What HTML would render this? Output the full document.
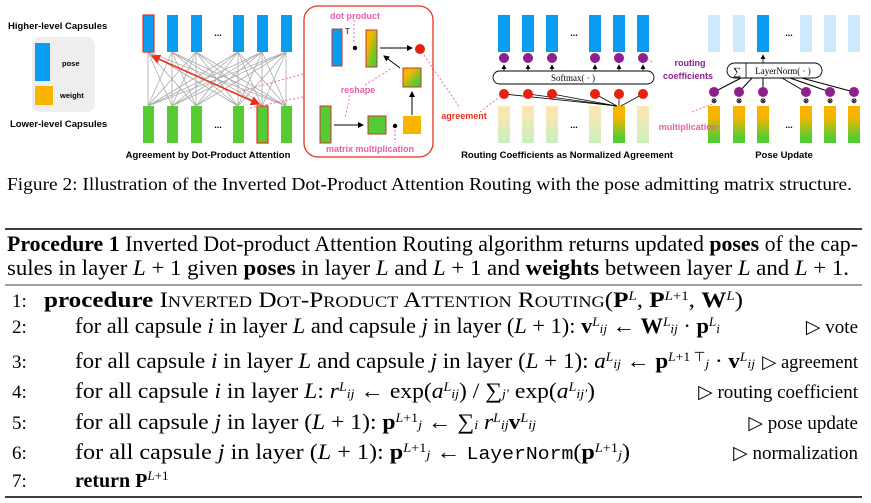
<!DOCTYPE html>
<html><head><meta charset="utf-8"><style>
html,body{margin:0;padding:0;background:#fff;}
svg{display:block;}
.sb{font-family:"Liberation Sans",sans-serif;font-weight:bold;}
.sr{font-family:"Liberation Serif",serif;}
</style></head><body>
<svg width="871" height="503" viewBox="0 0 871 503" xmlns="http://www.w3.org/2000/svg">
<defs>
<linearGradient id="diag" x1="0" y1="0" x2="1" y2="1"><stop offset="0.3" stop-color="#f7b500"/><stop offset="0.75" stop-color="#55cc33"/></linearGradient>
<linearGradient id="vert" x1="0" y1="0" x2="0" y2="1"><stop offset="0.3" stop-color="#f7b500"/><stop offset="0.85" stop-color="#55cc33"/></linearGradient>
<linearGradient id="fade" x1="0" y1="0" x2="0" y2="1"><stop offset="0.2" stop-color="#fbe7b3"/><stop offset="0.9" stop-color="#cdefbf"/></linearGradient>
<marker id="ah" markerWidth="6" markerHeight="6" refX="5" refY="3" orient="auto"><path d="M0,0 L6,3 L0,6 z" fill="#000"/></marker>
<marker id="ar" markerWidth="6" markerHeight="6" refX="5" refY="3" orient="auto-start-reverse"><path d="M0,0 L6,3 L0,6 z" fill="#e8321e"/></marker>
</defs>

<text class="sb" x="8" y="29" font-size="9.5">Higher-level Capsules</text>
<rect x="32" y="37" width="63" height="75" rx="8" fill="#eeeeee"/>
<rect x="35" y="43" width="15" height="38" fill="#0a9cf0"/>
<rect x="35" y="86" width="18" height="19" fill="#f7b500"/>
<text class="sb" x="62" y="66" font-size="7.5">pose</text>
<text class="sb" x="60" y="98" font-size="7.5">weight</text>
<text class="sb" x="10" y="127" font-size="9.5">Lower-level Capsules</text>

<g stroke="#aaa" stroke-width="0.8">
<line x1="148" y1="52" x2="148" y2="106"/><line x1="148" y1="52" x2="172" y2="106"/><line x1="148" y1="52" x2="196" y2="106"/><line x1="148" y1="52" x2="238" y2="106"/><line x1="148" y1="52" x2="286" y2="106"/>
<line x1="172" y1="52" x2="148" y2="106"/><line x1="172" y1="52" x2="172" y2="106"/><line x1="172" y1="52" x2="196" y2="106"/><line x1="172" y1="52" x2="238" y2="106"/><line x1="172" y1="52" x2="262" y2="106"/><line x1="172" y1="52" x2="286" y2="106"/>
<line x1="196" y1="52" x2="148" y2="106"/><line x1="196" y1="52" x2="172" y2="106"/><line x1="196" y1="52" x2="196" y2="106"/><line x1="196" y1="52" x2="238" y2="106"/><line x1="196" y1="52" x2="262" y2="106"/><line x1="196" y1="52" x2="286" y2="106"/>
<line x1="238" y1="52" x2="148" y2="106"/><line x1="238" y1="52" x2="172" y2="106"/><line x1="238" y1="52" x2="196" y2="106"/><line x1="238" y1="52" x2="238" y2="106"/><line x1="238" y1="52" x2="262" y2="106"/><line x1="238" y1="52" x2="286" y2="106"/>
<line x1="262" y1="52" x2="148" y2="106"/><line x1="262" y1="52" x2="172" y2="106"/><line x1="262" y1="52" x2="196" y2="106"/><line x1="262" y1="52" x2="238" y2="106"/><line x1="262" y1="52" x2="262" y2="106"/><line x1="262" y1="52" x2="286" y2="106"/>
<line x1="286" y1="52" x2="148" y2="106"/><line x1="286" y1="52" x2="172" y2="106"/><line x1="286" y1="52" x2="196" y2="106"/><line x1="286" y1="52" x2="238" y2="106"/><line x1="286" y1="52" x2="262" y2="106"/><line x1="286" y1="52" x2="286" y2="106"/>
</g>
<g fill="#0a9cf0">
<rect x="143" y="15" width="11" height="37" stroke="#e8321e" stroke-width="1.2"/>
<rect x="167" y="15" width="11" height="37"/><rect x="191" y="15" width="11" height="37"/>
<rect x="233" y="15" width="11" height="37"/><rect x="257" y="15" width="11" height="37"/><rect x="281" y="15" width="11" height="37"/>
</g>
<g fill="#55cc33">
<rect x="143" y="106" width="11" height="37"/><rect x="167" y="106" width="11" height="37"/><rect x="191" y="106" width="11" height="37"/>
<rect x="233" y="106" width="11" height="37"/><rect x="257" y="106" width="11" height="37" stroke="#e8321e" stroke-width="1.2"/><rect x="281" y="106" width="11" height="37"/>
</g>
<text class="sb" x="218" y="36" font-size="9" text-anchor="middle">...</text>
<text class="sb" x="218" y="128" font-size="9" text-anchor="middle">...</text>
<line x1="152" y1="56" x2="259" y2="104" stroke="#e8321e" stroke-width="1.6" marker-start="url(#ar)" marker-end="url(#ar)"/>
<text class="sb" x="208" y="158" font-size="9.5" text-anchor="middle">Agreement by Dot-Product Attention</text>

<g stroke="#e75fa8" stroke-width="0.9" stroke-dasharray="2,2" fill="none">
<line x1="303" y1="74" x2="238" y2="92"/>
<line x1="303" y1="97" x2="250" y2="108"/>
<line x1="424" y1="55" x2="460" y2="108"/>
<line x1="480" y1="112" x2="498" y2="98"/>
<line x1="354" y1="20" x2="354" y2="44"/>
<line x1="350" y1="95" x2="345" y2="118"/>
<line x1="365" y1="85" x2="392" y2="68"/>
<line x1="395" y1="130" x2="395" y2="143"/>
<line x1="652" y1="62" x2="646" y2="58"/>
<line x1="692" y1="112" x2="712" y2="104"/>
</g>
<rect x="304" y="6" width="129" height="151" rx="14" fill="none" stroke="#e8321e" stroke-width="1.3"/>
<text class="sb" x="355" y="19" font-size="9" fill="#e75fa8" text-anchor="middle">dot product</text>
<rect x="332" y="29" width="10" height="37" fill="#0a9cf0" stroke="#c0392b" stroke-width="1"/>
<text class="sb" x="345" y="34" font-size="8" fill="#555">T</text>
<circle cx="355" cy="48" r="2.2" fill="#000"/>
<rect x="366" y="30" width="11" height="37" fill="url(#diag)" stroke="#c0392b" stroke-width="1"/>
<line x1="380" y1="48" x2="412" y2="48" stroke="#000" stroke-width="1" marker-end="url(#ah)"/>
<circle cx="420" cy="49" r="5" fill="#e8200e"/>
<rect x="403" y="68" width="18" height="19" fill="url(#diag)" stroke="#c0392b" stroke-width="1"/>
<line x1="400" y1="68" x2="384" y2="56" stroke="#000" stroke-width="1" marker-end="url(#ah)"/>
<line x1="412" y1="115" x2="412" y2="92" stroke="#000" stroke-width="1" marker-end="url(#ah)"/>
<text class="sb" x="358" y="93" font-size="9" fill="#e75fa8" text-anchor="middle">reshape</text>
<rect x="320" y="106" width="11" height="37" fill="#55cc33" stroke="#c0392b" stroke-width="1"/>
<line x1="334" y1="125" x2="363" y2="125" stroke="#000" stroke-width="1" marker-end="url(#ah)"/>
<rect x="368" y="116" width="18" height="18" fill="#55cc33" stroke="#c0392b" stroke-width="1"/>
<circle cx="395" cy="126" r="2.2" fill="#000"/>
<rect x="403" y="116" width="18" height="18" fill="#f7b500"/>
<text class="sb" x="370" y="152" font-size="9" fill="#e75fa8" text-anchor="middle">matrix multiplication</text>
<text class="sb" x="464" y="119" font-size="9" fill="#e8321e" text-anchor="middle">agreement</text>

<g fill="#0a9cf0">
<rect x="498" y="15" width="12" height="37"/><rect x="522" y="15" width="12" height="37"/><rect x="546" y="15" width="12" height="37"/>
<rect x="589" y="15" width="12" height="37"/><rect x="613" y="15" width="12" height="37"/><rect x="637" y="15" width="12" height="37"/>
</g>
<text class="sb" x="574" y="36" font-size="9" text-anchor="middle">...</text>
<g stroke="#000" stroke-width="0.8" marker-end="url(#ah)">
<line x1="504" y1="71" x2="504" y2="65"/><line x1="528" y1="71" x2="528" y2="65"/><line x1="552" y1="71" x2="552" y2="65"/>
<line x1="595" y1="71" x2="595" y2="65"/><line x1="619" y1="71" x2="619" y2="65"/><line x1="643" y1="71" x2="643" y2="65"/>
</g>
<g fill="#8e1f8e">
<circle cx="504" cy="58" r="5"/><circle cx="528" cy="58" r="5"/><circle cx="552" cy="58" r="5"/>
<circle cx="595" cy="58" r="5"/><circle cx="619" cy="58" r="5"/><circle cx="643" cy="58" r="5"/>
</g>
<rect x="493" y="71" width="161" height="13" rx="6.5" fill="#fff" stroke="#000" stroke-width="0.9"/>
<text class="sr" x="573" y="81" font-size="9" text-anchor="middle">Softmax( · )</text>
<g fill="url(#fade)">
<rect x="498" y="106" width="12" height="37"/><rect x="522" y="106" width="12" height="37"/><rect x="546" y="106" width="12" height="37"/>
<rect x="589" y="106" width="12" height="37"/><rect x="637" y="106" width="12" height="37"/>
</g>
<rect x="613" y="106" width="12" height="37" fill="url(#vert)"/>
<text class="sb" x="574" y="128" font-size="9" text-anchor="middle">...</text>
<g stroke="#000" stroke-width="0.8">
<line x1="504" y1="94" x2="617" y2="106"/><line x1="528" y1="94" x2="617" y2="106"/><line x1="552" y1="94" x2="617" y2="106"/>
<line x1="595" y1="94" x2="617" y2="106"/><line x1="619" y1="94" x2="619" y2="106"/><line x1="643" y1="94" x2="621" y2="106"/>
</g>
<g fill="#e8200e">
<circle cx="504" cy="94" r="5"/><circle cx="528" cy="94" r="5"/><circle cx="552" cy="94" r="5"/>
<circle cx="595" cy="94" r="5"/><circle cx="619" cy="94" r="5"/><circle cx="643" cy="94" r="5"/>
</g>
<text class="sb" x="690" y="66" font-size="9" fill="#8e1f8e" text-anchor="middle">routing</text>
<text class="sb" x="688" y="79" font-size="9" fill="#8e1f8e" text-anchor="middle">coefficients</text>
<text class="sb" x="567" y="158" font-size="9.5" text-anchor="middle">Routing Coefficients as Normalized Agreement</text>

<g fill="#cde9fb">
<rect x="708" y="15" width="12" height="37"/><rect x="733" y="15" width="12" height="37"/>
<rect x="800" y="15" width="12" height="37"/><rect x="824" y="15" width="12" height="37"/><rect x="848" y="15" width="12" height="37"/>
</g>
<rect x="757" y="15" width="12" height="37" fill="#0a9cf0"/>
<text class="sb" x="789" y="36" font-size="9" text-anchor="middle">...</text>
<line x1="763" y1="63" x2="763" y2="55" stroke="#000" stroke-width="0.8" marker-end="url(#ah)"/>
<g stroke="#000" stroke-width="1">
<line x1="714" y1="92" x2="745" y2="76"/><line x1="739" y1="92" x2="752" y2="78"/><line x1="763" y1="92" x2="763" y2="78"/>
<line x1="806" y1="92" x2="782" y2="78"/><line x1="830" y1="92" x2="790" y2="78"/><line x1="854" y1="92" x2="798" y2="77"/>
</g>
<rect x="727" y="63" width="95" height="15" rx="7.5" fill="#fff" stroke="#000" stroke-width="0.9"/>
<line x1="746" y1="63" x2="746" y2="78" stroke="#000" stroke-width="0.8"/>
<text class="sr" x="737" y="75" font-size="11" text-anchor="middle">∑</text>
<text class="sr" x="783" y="74" font-size="9" text-anchor="middle">LayerNorm( · )</text>
<g fill="#8e1f8e">
<circle cx="714" cy="92" r="5"/><circle cx="739" cy="92" r="5"/><circle cx="763" cy="92" r="5"/>
<circle cx="806" cy="92" r="5"/><circle cx="830" cy="92" r="5"/><circle cx="854" cy="92" r="5"/>
</g>
<g class="sb" font-size="7" text-anchor="middle">
<text x="714" y="103">⊗</text><text x="739" y="103">⊗</text><text x="763" y="103">⊗</text>
<text x="806" y="103">⊗</text><text x="830" y="103">⊗</text><text x="854" y="103">⊗</text>
</g>
<g fill="url(#vert)">
<rect x="708" y="106" width="12" height="37"/><rect x="733" y="106" width="12" height="37"/><rect x="757" y="106" width="12" height="37"/>
<rect x="800" y="106" width="12" height="37"/><rect x="824" y="106" width="12" height="37"/><rect x="848" y="106" width="12" height="37"/>
</g>
<text class="sb" x="789" y="128" font-size="9" text-anchor="middle">...</text>
<text class="sb" x="688" y="130" font-size="9" fill="#e75fa8" text-anchor="middle">multiplication</text>
<text class="sb" x="784" y="158" font-size="9.5" text-anchor="middle">Pose Update</text>

<text class="sr" x="7" y="190" font-size="17.5" textLength="845" lengthAdjust="spacingAndGlyphs">Figure 2: Illustration of the Inverted Dot-Product Attention Routing with the pose admitting matrix structure.</text>

<line x1="5" y1="229" x2="862" y2="229" stroke="#000" stroke-width="1.5"/>
<text class="sr" x="7" y="251" font-size="22" textLength="851" lengthAdjust="spacingAndGlyphs"><tspan font-weight="bold">Procedure 1</tspan> Inverted Dot-product Attention Routing algorithm returns updated <tspan font-weight="bold">poses</tspan> of the cap-</text>
<text class="sr" x="7" y="275" font-size="22" textLength="842" lengthAdjust="spacingAndGlyphs">sules in layer <tspan font-style="italic">L</tspan> + 1 given <tspan font-weight="bold">poses</tspan> in layer <tspan font-style="italic">L</tspan> and <tspan font-style="italic">L</tspan> + 1 and <tspan font-weight="bold">weights</tspan> between layer <tspan font-style="italic">L</tspan> and <tspan font-style="italic">L</tspan> + 1.</text>
<line x1="5" y1="285" x2="862" y2="285" stroke="#000" stroke-width="0.8"/>

<g class="sr" font-size="22">
<text x="12" y="307" font-size="19">1:</text>
<text x="44" y="307" textLength="699" lengthAdjust="spacingAndGlyphs"><tspan font-weight="bold">procedure</tspan> I<tspan font-size="16">NVERTED</tspan> D<tspan font-size="16">OT</tspan>-P<tspan font-size="16">RODUCT</tspan> A<tspan font-size="16">TTENTION</tspan> R<tspan font-size="16">OUTING</tspan>(<tspan font-weight="bold">P</tspan><tspan font-size="13" font-style="italic" baseline-shift="super">L</tspan>, <tspan font-weight="bold">P</tspan><tspan font-size="13" baseline-shift="super"><tspan font-style="italic">L</tspan>+1</tspan>, <tspan font-weight="bold">W</tspan><tspan font-size="13" font-style="italic" baseline-shift="super">L</tspan>)</text>

<text x="12" y="333" font-size="19">2:</text>
<text x="75" y="333" textLength="645" lengthAdjust="spacingAndGlyphs">for all capsule <tspan font-style="italic">i</tspan> in layer <tspan font-style="italic">L</tspan> and capsule <tspan font-style="italic">j</tspan> in layer (<tspan font-style="italic">L</tspan> + 1): <tspan font-weight="bold">v</tspan><tspan font-size="13" font-style="italic" baseline-shift="super">L</tspan><tspan font-size="13" font-style="italic">ij</tspan> ← <tspan font-weight="bold">W</tspan><tspan font-size="13" font-style="italic" baseline-shift="super">L</tspan><tspan font-size="13" font-style="italic">ij</tspan> · <tspan font-weight="bold">p</tspan><tspan font-size="13" font-style="italic" baseline-shift="super">L</tspan><tspan font-size="13" font-style="italic">i</tspan></text>
<text x="858" y="333" text-anchor="end" font-size="19">▷ vote</text>

<text x="12" y="368" font-size="19">3:</text>
<text x="75" y="368" textLength="680" lengthAdjust="spacingAndGlyphs">for all capsule <tspan font-style="italic">i</tspan> in layer <tspan font-style="italic">L</tspan> and capsule <tspan font-style="italic">j</tspan> in layer (<tspan font-style="italic">L</tspan> + 1): <tspan font-style="italic">a</tspan><tspan font-size="13" font-style="italic" baseline-shift="super">L</tspan><tspan font-size="13" font-style="italic">ij</tspan> ← <tspan font-weight="bold">p</tspan><tspan font-size="13" baseline-shift="super"><tspan font-style="italic">L</tspan>+1 ⊤</tspan><tspan font-size="13" font-style="italic">j</tspan> · <tspan font-weight="bold">v</tspan><tspan font-size="13" font-style="italic" baseline-shift="super">L</tspan><tspan font-size="13" font-style="italic">ij</tspan></text>
<text x="858" y="368" text-anchor="end" font-size="18.5">▷ agreement</text>

<text x="12" y="398" font-size="19">4:</text>
<text x="75" y="398" textLength="520" lengthAdjust="spacingAndGlyphs">for all capsule <tspan font-style="italic">i</tspan> in layer <tspan font-style="italic">L</tspan>: <tspan font-style="italic">r</tspan><tspan font-size="13" font-style="italic" baseline-shift="super">L</tspan><tspan font-size="13" font-style="italic">ij</tspan> ← exp(<tspan font-style="italic">a</tspan><tspan font-size="13" font-style="italic" baseline-shift="super">L</tspan><tspan font-size="13" font-style="italic">ij</tspan>) / ∑<tspan font-size="13" font-style="italic">j′</tspan> exp(<tspan font-style="italic">a</tspan><tspan font-size="13" font-style="italic" baseline-shift="super">L</tspan><tspan font-size="13" font-style="italic">ij′</tspan>)</text>
<text x="858" y="398" text-anchor="end" font-size="19">▷ routing coefficient</text>

<text x="12" y="429" font-size="19">5:</text>
<text x="75" y="429" textLength="461" lengthAdjust="spacingAndGlyphs">for all capsule <tspan font-style="italic">j</tspan> in layer (<tspan font-style="italic">L</tspan> + 1): <tspan font-weight="bold">p</tspan><tspan font-size="13" baseline-shift="super"><tspan font-style="italic">L</tspan>+1</tspan><tspan font-size="13" font-style="italic">j</tspan> ← ∑<tspan font-size="13" font-style="italic">i</tspan> <tspan font-style="italic">r</tspan><tspan font-size="13" font-style="italic" baseline-shift="super">L</tspan><tspan font-size="13" font-style="italic">ij</tspan><tspan font-weight="bold">v</tspan><tspan font-size="13" font-style="italic" baseline-shift="super">L</tspan><tspan font-size="13" font-style="italic">ij</tspan></text>
<text x="858" y="429" text-anchor="end" font-size="19">▷ pose update</text>

<text x="12" y="459" font-size="19">6:</text>
<text x="75" y="459" textLength="555" lengthAdjust="spacingAndGlyphs">for all capsule <tspan font-style="italic">j</tspan> in layer (<tspan font-style="italic">L</tspan> + 1): <tspan font-weight="bold">p</tspan><tspan font-size="13" baseline-shift="super"><tspan font-style="italic">L</tspan>+1</tspan><tspan font-size="13" font-style="italic">j</tspan> ← <tspan font-family="Liberation Mono, monospace" font-size="18">LayerNorm</tspan>(<tspan font-weight="bold">p</tspan><tspan font-size="13" baseline-shift="super"><tspan font-style="italic">L</tspan>+1</tspan><tspan font-size="13" font-style="italic">j</tspan>)</text>
<text x="858" y="459" text-anchor="end" font-size="19">▷ normalization</text>

<text x="12" y="487" font-size="19">7:</text>
<text x="75" y="487" font-size="20"><tspan font-weight="bold">return P</tspan><tspan font-size="13" baseline-shift="super"><tspan font-style="italic">L</tspan>+1</tspan></text>
</g>
<line x1="5" y1="497" x2="862" y2="497" stroke="#000" stroke-width="1.5"/>
</svg>
</body></html>
